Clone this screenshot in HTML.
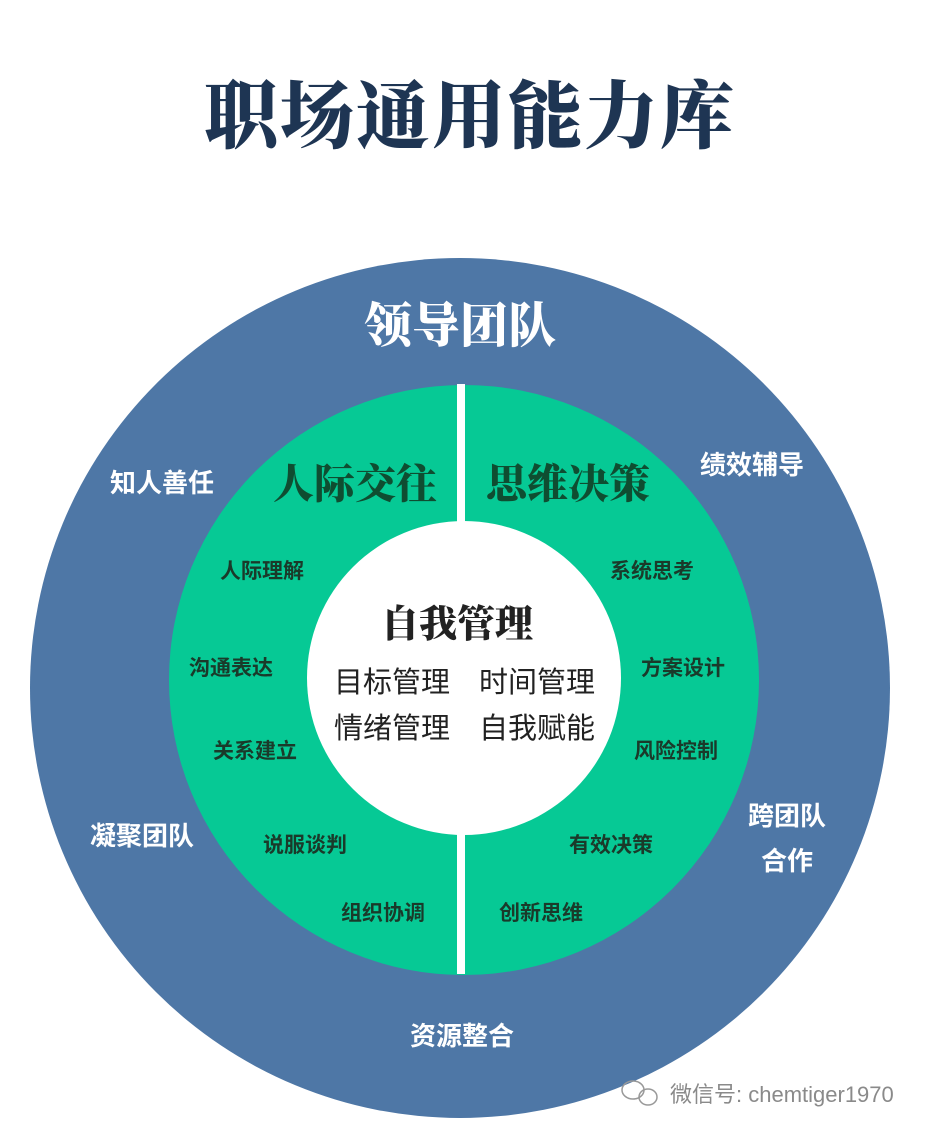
<!DOCTYPE html>
<html><head><meta charset="utf-8"><style>
html,body{margin:0;padding:0;background:#fff;}
svg{display:block}
</style></head><body>
<svg width="941" height="1137" viewBox="0 0 941 1137" xmlns="http://www.w3.org/2000/svg" font-family="'Liberation Sans','Noto Sans CJK SC',sans-serif">
<rect width="941" height="1137" fill="#fff"/>
<text x="470" y="142" text-anchor="middle" font-family="'Noto Serif CJK SC',serif" font-weight="900" font-size="74" fill="#1e3553" letter-spacing="2">职场通用能力库</text>
<circle cx="460" cy="688" r="430" fill="#4e77a6"/>
<circle cx="464" cy="680" r="295" fill="#06c995"/>
<rect x="457" y="384" width="8" height="590" fill="#fff"/>
<circle cx="464" cy="678" r="157" fill="#fff"/>
<text x="460" y="342" text-anchor="middle" font-size="48" font-weight="900" fill="#fff" font-family="'Noto Serif CJK SC',serif">领导团队</text>
<g fill="#fff" font-size="26" text-anchor="middle" font-weight="bold">
<text x="162" y="492">知人善任</text>
<text x="752" y="474">绩效辅导</text>
<text x="142" y="845">凝聚团队</text>
<text x="787" y="825">跨团队</text>
<text x="787" y="870">合作</text>
<text x="462" y="1045">资源整合</text>
</g>
<g fill="#0f4d31" font-weight="900" font-size="41" font-family="'Noto Serif CJK SC',serif" text-anchor="middle">
<text x="355" y="498">人际交往</text>
<text x="568" y="498">思维决策</text>
</g>
<g fill="#1a3a2a" font-size="21" text-anchor="middle" font-weight="bold">
<text x="262" y="578">人际理解</text>
<text x="231" y="675">沟通表达</text>
<text x="255" y="758">关系建立</text>
<text x="305" y="852">说服谈判</text>
<text x="383" y="920">组织协调</text>
<text x="652" y="578">系统思考</text>
<text x="683" y="675">方案设计</text>
<text x="676" y="758">风险控制</text>
<text x="611" y="852">有效决策</text>
<text x="541" y="920">创新思维</text>
</g>
<text x="457" y="637" text-anchor="middle" font-weight="900" font-size="38" fill="#222" font-family="'Noto Serif CJK SC',serif">自我管理</text>
<g fill="#222" font-size="29" text-anchor="middle">
<text x="392" y="692">目标管理</text>
<text x="537" y="692">时间管理</text>
<text x="392" y="738">情绪管理</text>
<text x="537" y="738">自我赋能</text>
</g>
<g fill="none" stroke="#999" stroke-width="1.5">
<ellipse cx="633" cy="1090" rx="11" ry="9"/>
<ellipse cx="648" cy="1097" rx="9" ry="8"/>
</g>
<text x="670" y="1102" font-size="22" fill="#8a8a8a">微信号: chemtiger1970</text>
</svg>
</body></html>
